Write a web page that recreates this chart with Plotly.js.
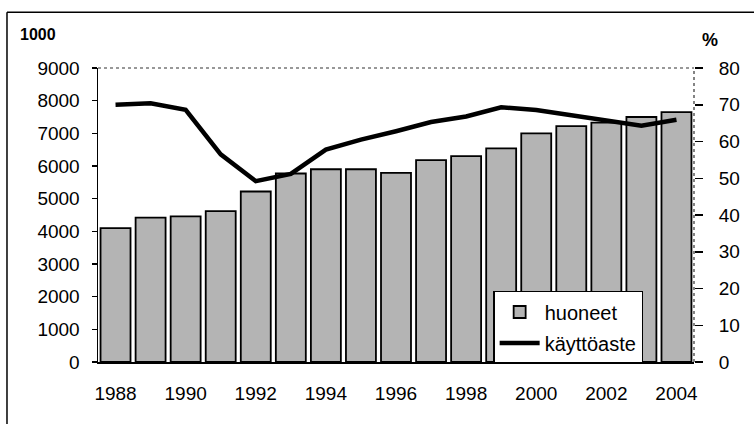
<!DOCTYPE html>
<html><head><meta charset="utf-8">
<script src="https://cdn.plot.ly/plotly-3.0.1.min.js"></script>
<style>html,body{margin:0;padding:0;background:#fff;}#chart{width:754px;height:424px;}</style>
</head><body><div id="chart"></div>
<script>
const years = [1988,1989,1990,1991,1992,1993,1994,1995,1996,1997,1998,1999,2000,2001,2002,2003,2004];
const huoneet = [4100,4420,4460,4620,5220,5770,5900,5900,5790,6180,6300,6540,7000,7220,7330,7500,7650];
const kayttoaste = [70.0,70.4,68.6,56.5,49.2,51.2,57.8,60.5,62.8,65.3,66.8,69.3,68.6,67.2,65.8,64.3,65.9];
const xTicks = [1988,1990,1992,1994,1996,1998,2000,2002,2004];
const barName = 'huoneet';
const lineName = 'käyttöaste';
const leftUnit = '1000';
const rightUnit = '%';

const font = {family: 'Liberation Sans, Arial, sans-serif', size: 19, color: '#000'};

const traces = [
  {type: 'bar', x: years, y: huoneet, name: barName, legendgroup: 'a',
   marker: {color: '#b4b4b4', line: {color: '#000', width: 1.8}}, yaxis: 'y'},
  {type: 'scatter', mode: 'lines', x: years, y: kayttoaste, name: lineName, legendgroup: 'b',
   line: {color: '#000', width: 4.5}, yaxis: 'y2'}
];

const layout = {
  width: 754, height: 424,
  margin: {l: 98, r: 60, t: 68, b: 62},
  paper_bgcolor: '#fff', plot_bgcolor: '#fff',
  font: font,
  bargap: 0.145,
  showlegend: true,
  legend: {x: 0.663, y: 0.2415, xanchor: 'left', yanchor: 'top', bgcolor: '#fff',
           bordercolor: '#000', borderwidth: 1.5, font: {family: font.family, size: 20, color: '#000'},
           traceorder: 'grouped', tracegroupgap: 2, itemwidth: 40},
  xaxis: {range: [1987.5, 2004.5], tickvals: xTicks, ticktext: xTicks.map(String),
          showgrid: false, zeroline: false, showline: true, linecolor: '#000', linewidth: 1.5,
          ticks: '', ticklabelstandoff: 14, tickfont: font},
  yaxis: {range: [0, 9000], dtick: 1000, showgrid: false, zeroline: false, showline: true,
          linecolor: '#000', linewidth: 1.5, ticks: 'outside', ticklen: 5, tickcolor: '#000',
          tickwidth: 1.5, ticklabelstandoff: 8, tickfont: font},
  yaxis2: {range: [0, 80], dtick: 10, overlaying: 'y', side: 'right', showgrid: false,
           zeroline: false, showline: false, ticks: 'outside', ticklen: 8, tickcolor: '#000',
           tickwidth: 1.5, ticklabelstandoff: 12, tickfont: font},
  shapes: [
    {type: 'line', xref: 'paper', yref: 'paper', x0: 0, x1: 1, y0: 1, y1: 1,
     line: {color: '#333', width: 1.2, dash: 'dot'}},
    {type: 'line', xref: 'paper', yref: 'paper', x0: 1, x1: 1, y0: 0, y1: 1,
     line: {color: '#333', width: 1.2, dash: 'dot'}},
    {type: 'line', xref: 'paper', yref: 'paper', x0: -0.1527, x1: 1.2, y0: 1.19, y1: 1.19,
     line: {color: '#000', width: 1.5}},
    {type: 'line', xref: 'paper', yref: 'paper', x0: -0.1527, x1: -0.1527, y0: 1.19, y1: -0.3,
     line: {color: '#000', width: 1.5}}
  ],
  annotations: [
    {text: '<b>' + leftUnit + '</b>', xref: 'paper', yref: 'paper', x: (38-98)/596, y: (362-35)/294,
     xanchor: 'center', yanchor: 'middle', showarrow: false,
     font: {family: font.family, size: 16, color: '#000'}},
    {text: '<b>' + rightUnit + '</b>', xref: 'paper', yref: 'paper', x: (710-98)/596, y: (362-40)/294,
     xanchor: 'center', yanchor: 'middle', showarrow: false,
     font: {family: font.family, size: 18, color: '#000'}}
  ]
};

Plotly.newPlot('chart', traces, layout, {displayModeBar: false, staticPlot: true});
</script>
</body></html>
